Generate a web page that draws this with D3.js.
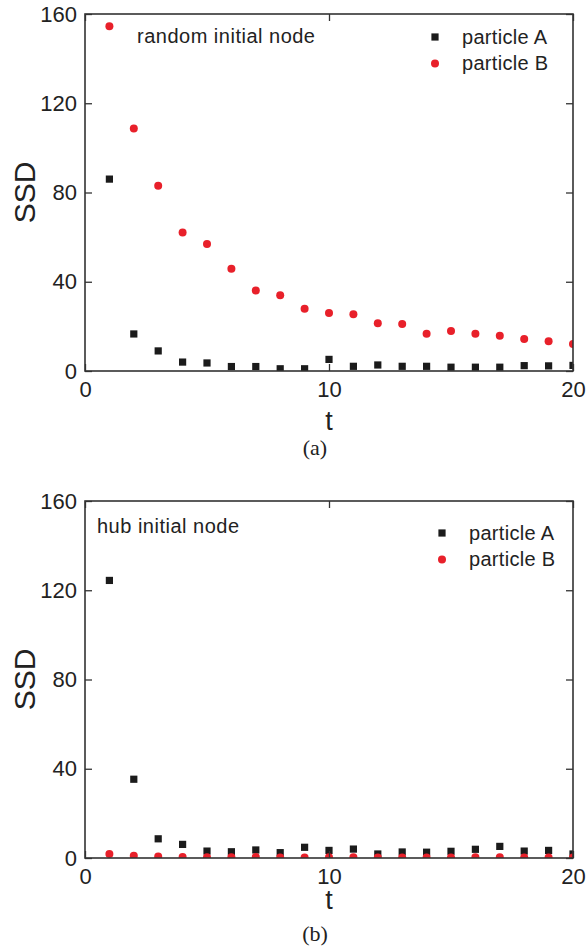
<!DOCTYPE html>
<html>
<head>
<meta charset="utf-8">
<script src="https://cdn.jsdelivr.net/npm/d3@7"></script>
<style>
  body { margin: 0; background: #fff; }
  svg text { font-family: "Liberation Sans", Arial, sans-serif; fill: #222; }
  svg text.caption { font-family: "Liberation Serif", "DejaVu Serif", serif; }
</style>
</head>
<body>
<div class="figure"></div>
<script>
// pas de temps
const steps = d3.range(1, 21);

// (a) noeud initial aléatoire
const ssdRandomA = [86, 16.6, 9, 4, 3.6, 2, 2, 1, 1, 5.2, 2.1, 2.7, 2.1, 2.1, 1.7, 1.7, 1.7, 2.4, 2.3, 2.5];
const ssdRandomB = [154.5, 108.7, 83, 62.1, 56.9, 45.8, 36.1, 34, 27.9, 26, 25.4, 21.4, 21.1, 16.7, 17.9, 16.7, 15.8, 14.3, 13.3, 12.1];

// (b) noeud initial hub
const ssdHubA = [124.4, 35.3, 8.6, 6.1, 3.1, 2.8, 3.6, 2.4, 4.8, 3.4, 4, 1.8, 2.7, 2.6, 3, 3.9, 5.2, 3.1, 3.4, 1.8];
const ssdHubB = [1.8, 1.0, 0.7, 0.5, 0.3, 0.3, 0.4, 0.2, 0.2, 0.3, 0.3, 0.2, 0.2, 0.2, 0.2, 0.3, 0.3, 0.2, 0.2, 0.2];

const yTicks = [0, 40, 80, 120, 160];
const xTicks = [0, 10, 20];
const seriesNames = ["particle A", "particle B"];

const W = 587, H = 950;
const black = "#1b1b1b", red = "#e8202a";

const svg = d3.create("svg")
    .attr("width", W)
    .attr("height", H)
    .attr("viewBox", `0 0 ${W} ${H}`);

function panel(id, top, a, b, note, opts) {
    const left = 85, right = 573, bottom = top + 357;
    const x = d3.scaleLinear().domain([0, 20]).range([left, right]);
    const y = d3.scaleLinear().domain([0, 160]).range([bottom, top]);
    const g = svg.append("g");

    // zone de tracé (les points sont coupés au bord du cadre)
    svg.append("clipPath").attr("id", "clip-" + id)
        .append("rect")
        .attr("x", left).attr("y", top)
        .attr("width", right - left).attr("height", bottom - top);

    const pts = g.append("g").attr("clip-path", `url(#clip-${id})`);
    pts.selectAll("rect.sq")
        .data(steps.map((t, i) => ({ t, v: a[i] })))
        .join("rect")
        .attr("class", "sq")
        .attr("x", d => x(d.t) - 3.6)
        .attr("y", d => y(d.v) - 3.6)
        .attr("width", 7.2)
        .attr("height", 7.2)
        .attr("fill", black);
    pts.selectAll("circle")
        .data(steps.map((t, i) => ({ t, v: b[i] })))
        .join("circle")
        .attr("cx", d => x(d.t))
        .attr("cy", d => y(d.v))
        .attr("r", 4)
        .attr("fill", red);

    // axes avec graduations vers l'intérieur
    const styleAxis = sel => {
        sel.select(".domain").remove();
        sel.selectAll(".tick line").attr("stroke", "#333").attr("stroke-width", 1.3);
        sel.selectAll("text").attr("font-size", 22).attr("fill", "#222");
    };
    g.append("g").attr("transform", `translate(${left},0)`)
        .call(d3.axisLeft(y).tickValues(yTicks).tickSize(-7).tickPadding(8))
        .call(styleAxis);
    g.append("g").attr("transform", `translate(${right},0)`)
        .call(d3.axisRight(y).tickValues(yTicks).tickSize(-7).tickFormat(""))
        .call(styleAxis);
    g.append("g").attr("transform", `translate(0,${bottom})`)
        .call(d3.axisBottom(x).tickValues(xTicks).tickSize(-7).tickPadding(10))
        .call(styleAxis);
    g.append("g").attr("transform", `translate(0,${top})`)
        .call(d3.axisTop(x).tickValues(xTicks).tickSize(-7).tickFormat(""))
        .call(styleAxis);

    g.append("rect")
        .attr("x", left).attr("y", top)
        .attr("width", right - left).attr("height", bottom - top)
        .attr("fill", "none")
        .attr("stroke", "#333")
        .attr("stroke-width", 1.6);

    // titres des axes
    g.append("text")
        .attr("transform", `translate(35,${(top + bottom) / 2}) rotate(-90)`)
        .attr("text-anchor", "middle")
        .attr("font-size", 30)
        .text("SSD");
    g.append("text")
        .attr("x", x(10)).attr("y", bottom + opts.tY)
        .attr("text-anchor", "middle")
        .attr("font-size", 27)
        .text("t");

    // annotation
    g.append("text")
        .attr("x", opts.noteX).attr("y", top + opts.noteY)
        .attr("font-size", 20)
        .attr("letter-spacing", 0.5)
        .text(note);

    // légende
    const leg = g.append("g").attr("transform", `translate(${opts.legX},${top + opts.legY})`);
    leg.append("rect").attr("x", -3.6).attr("y", -3.6).attr("width", 7.2).attr("height", 7.2).attr("fill", black);
    leg.append("circle").attr("cx", 0).attr("cy", 26.5).attr("r", 4).attr("fill", red);
    leg.selectAll("text")
        .data(seriesNames)
        .join("text")
        .attr("x", 27)
        .attr("y", (d, i) => 6.5 + i * 26.5)
        .attr("font-size", 20)
        .attr("letter-spacing", 0.3)
        .text(d => d);

    // légende de sous-figure
    g.append("text")
        .attr("class", "caption")
        .attr("x", 315).attr("y", bottom + opts.capY)
        .attr("text-anchor", "middle")
        .attr("font-size", 22)
        .text(opts.caption);
}

panel("a", 14, ssdRandomA, ssdRandomB, "random initial node",
    { noteX: 137, noteY: 29, legX: 435, legY: 23, tY: 59, capY: 84, caption: "(a)" });
panel("b", 501, ssdHubA, ssdHubB, "hub initial node",
    { noteX: 97, noteY: 32, legX: 442, legY: 32, tY: 51, capY: 83, caption: "(b)" });

document.querySelector(".figure").appendChild(svg.node());
</script>
</body>
</html>
